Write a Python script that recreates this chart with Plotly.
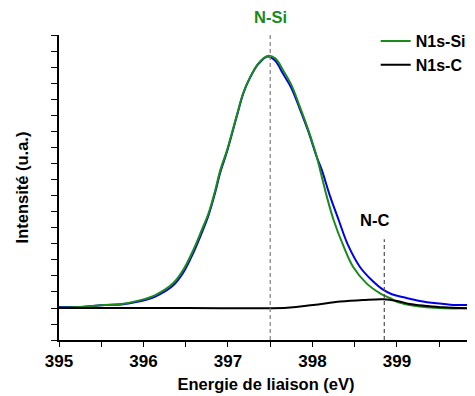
import plotly.graph_objects as go

# Energies (eV) and intensities (arbitrary units, 1 unit = 1 y tick)
green_x = [395.0, 395.30, 395.54, 395.74, 395.94, 396.14, 396.35, 396.47, 396.59, 396.69, 396.77,
           396.85, 396.91, 396.99, 397.10, 397.18, 397.26, 397.36, 397.47, 397.56, 397.65,
           397.75, 397.85, 397.95, 398.05, 398.12, 398.17, 398.25, 398.37, 398.48, 398.64,
           398.80, 398.92, 399.00, 399.15, 399.35, 399.55, 399.88]
green_y = [0.03, 0.08, 0.19, 0.25, 0.46, 0.81, 1.54, 2.38, 3.63, 4.88, 5.92,
           7.38, 8.63, 9.88, 11.96, 13.42, 14.40, 15.29, 15.75, 15.60, 14.88,
           13.94, 12.58, 11.13, 9.46, 8.00, 6.96, 5.50, 3.83, 2.58, 1.54,
           0.92, 0.61, 0.39, 0.19, 0.04, -0.02, -0.02]

blue_x = [395.0, 395.30, 395.54, 395.74, 395.94, 396.14, 396.35, 396.47, 396.59, 396.69, 396.77,
          396.85, 396.91, 396.99, 397.10, 397.18, 397.26, 397.36, 397.47, 397.56, 397.65,
          397.75, 397.85, 397.95, 398.05, 398.11, 398.21, 398.31, 398.42, 398.56, 398.70,
          398.84, 398.94, 399.08, 399.27, 399.47, 399.67, 399.88]
blue_y = [0.06, 0.08, 0.19, 0.22, 0.40, 0.72, 1.40, 2.20, 3.45, 4.70, 5.80,
          7.25, 8.50, 9.80, 11.90, 13.40, 14.38, 15.25, 15.72, 15.45, 14.65,
          13.75, 12.45, 11.05, 9.45, 8.63, 6.96, 5.50, 3.94, 2.58, 1.75,
          1.13, 0.86, 0.67, 0.44, 0.29, 0.19, 0.19]

black_x = [395.0, 396.5, 397.70, 398.01, 398.33, 398.60, 398.84, 399.00, 399.15, 399.35, 399.55, 399.88]
black_y = [0.0, 0.0, 0.02, 0.19, 0.40, 0.50, 0.55, 0.44, 0.25, 0.13, 0.04, -0.02]

x_ticks = [395, 395.5, 396, 396.5, 397, 397.5, 398, 398.5, 399, 399.5]
x_labels = ["395", "", "396", "", "397", "", "398", "", "399", ""]
y_ticks = list(range(-2, 18))

nsi_pos = 397.5
nc_pos = 398.85

FONT = "Arial, Liberation Sans, sans-serif"
GREEN = "#1b8a1b"
BLUE = "#0000e6"

fig = go.Figure()
fig.add_trace(go.Scatter(x=blue_x, y=blue_y, mode="lines", line=dict(color=BLUE, width=2, shape="spline"),
                         showlegend=False))
fig.add_trace(go.Scatter(x=green_x, y=green_y, mode="lines", name="N1s-Si",
                         line=dict(color=GREEN, width=2, shape="spline")))
fig.add_trace(go.Scatter(x=black_x, y=black_y, mode="lines", name="N1s-C",
                         line=dict(color="black", width=2, shape="spline")))

fig.add_shape(type="line", x0=nsi_pos, x1=nsi_pos, yref="paper", y0=0, y1=1.01,
              line=dict(color="#808080", width=1.2, dash="4px,3px"))
fig.add_shape(type="line", x0=nc_pos, x1=nc_pos, y0=-2, y1=4.3,
              line=dict(color="#505050", width=1.2, dash="4px,3px"))

fig.add_annotation(x=nsi_pos, yref="paper", y=1.058, text="<b>N-Si</b>", showarrow=False,
                   font=dict(family=FONT, size=16.5, color=GREEN), yanchor="middle")
fig.add_annotation(x=398.74, y=5.5, text="<b>N-C</b>", showarrow=False,
                   font=dict(family=FONT, size=16.5, color="black"), yanchor="middle")

fig.update_layout(
    width=467, height=388,
    margin=dict(l=51, r=2, t=27, b=56, autoexpand=False),
    plot_bgcolor="white", paper_bgcolor="white",
    font=dict(family=FONT, size=16, color="black"),
    showlegend=True,
    legend=dict(x=0.765, y=1.036, xanchor="left", yanchor="top", bgcolor="rgba(0,0,0,0)",
                font=dict(family=FONT, size=16, color="black", weight="bold"),
                tracegroupgap=0, itemwidth=30),
    xaxis=dict(range=[395, 399.9], tickmode="array", tickvals=x_ticks, ticktext=x_labels,
               ticks="outside", ticklen=5, tickwidth=1.2, tickcolor="black", automargin=False,
               showline=True, linecolor="black", linewidth=1.5, showgrid=False, zeroline=False,
               tickfont=dict(family=FONT, size=17, color="black", weight="bold"),
               title=dict(text="Energie de liaison (eV)", standoff=8,
                          font=dict(family=FONT, size=16.5, color="black", weight="bold"))),
    yaxis=dict(range=[-2, 17.06], tickmode="array", tickvals=y_ticks, showticklabels=False,
               ticks="outside", ticklen=6, tickwidth=1.2, tickcolor="black", automargin=False,
               showline=True, linecolor="black", linewidth=1.5, showgrid=False, zeroline=False,
               title=dict(text="Intensité (u.a.)", standoff=18,
                          font=dict(family=FONT, size=16.5, color="black", weight="bold"))),
)

fig.write_html("out.html")
